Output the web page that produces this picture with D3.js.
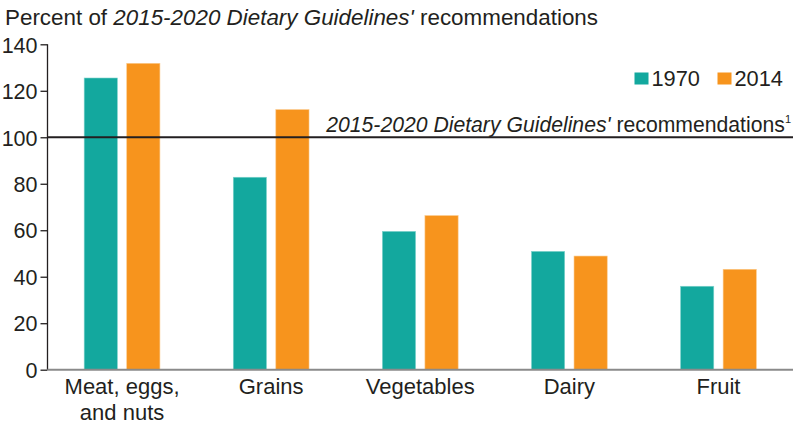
<!DOCTYPE html>
<html><head><meta charset="utf-8">
<script src="https://cdn.jsdelivr.net/npm/d3@7"></script>
<style>
body{margin:0;background:#fff;}
text{font-family:"Liberation Sans",Arial,Helvetica,sans-serif;fill:#231f20;}
</style></head>
<body><svg id="c" width="801" height="424"></svg>
<script>
const categories = [["Meat, eggs,","and nuts"],["Grains"],["Vegetables"],["Dairy"],["Fruit"]];
const seriesNames = ["1970","2014"];
const values1970 = [125.5, 82.8, 59.5, 50.9, 35.9];
const values2014 = [131.8, 111.9, 66.3, 48.9, 43.2];
const yTicks = [0,20,40,60,80,100,120,140];
const colors = ["#13a89e","#f7941d"];
const refValue = 100;

const svg = d3.select("#c");
const pLeft = 47.5, pRight = 793, pTop = 44.3, pBottom = 369.7;
const y = d3.scaleLinear().domain([0,140]).range([pBottom, pTop]);
const catIdx = categories.map((d,i)=>i);
const x0 = d3.scaleBand().domain(catIdx).range([pLeft,pRight]).paddingInner(0.492).paddingOuter(0.246);
const x1 = d3.scaleBand().domain([0,1]).range([0,x0.bandwidth()]).paddingInner(0.22);
const series = [values1970, values2014];

// bars
series.forEach((vals,s)=>{
  svg.append("g").selectAll("rect").data(vals).join("rect")
    .attr("x",(d,i)=>x0(i)+x1(s))
    .attr("y",d=>y(d))
    .attr("width",x1.bandwidth())
    .attr("height",d=>y(0)-y(d))
    .attr("fill",colors[s])
    .attr("stroke", s===0 ? "#7fd3cc" : "#fbc98a")
    .attr("stroke-width",0.6);
});

// y axis
const yAxis = d3.axisLeft(y).tickValues(yTicks).tickSize(7).tickPadding(3).tickFormat(d3.format("d"));
const ga = svg.append("g").attr("transform",`translate(${pLeft},0)`).call(yAxis);
ga.select(".domain").attr("stroke","#231f20").attr("stroke-width",1.3).attr("d",`M0,${pTop}V${pBottom}`);
ga.selectAll(".tick line").attr("stroke","#231f20").attr("stroke-width",1.3);
ga.selectAll(".tick text").attr("font-size",21.5).attr("font-family","Liberation Sans, Arial, sans-serif").attr("fill","#231f20").attr("dy","0.36em");

// baseline
svg.append("line").attr("x1",pLeft).attr("x2",pRight).attr("y1",y(0)).attr("y2",y(0))
  .attr("stroke","#8a8a8a").attr("stroke-width",2);

// reference line
svg.append("line").attr("x1",pLeft).attr("x2",pRight).attr("y1",y(refValue)).attr("y2",y(refValue))
  .attr("stroke","#231f20").attr("stroke-width",2);

// ref label
const rl = svg.append("text").attr("x",791).attr("y",y(refValue)-5.5).attr("text-anchor","end").attr("font-size",21.2);
rl.append("tspan").attr("font-style","italic").text("2015-2020 Dietary Guidelines'");
rl.append("tspan").text(" recommendations");
rl.append("tspan").attr("font-size",11).attr("dy",-9).text("1");

// category labels
catIdx.forEach(i=>{
  const t = svg.append("text").attr("x",x0(i)+x0.bandwidth()/2).attr("y",393.5).attr("text-anchor","middle").attr("font-size",22);
  categories[i].forEach((line,k)=>t.append("tspan").attr("x",x0(i)+x0.bandwidth()/2).attr("dy",k===0?0:26).text(line));
});

// title
const tt = svg.append("text").attr("x",5).attr("y",25).attr("font-size",22.4);
tt.append("tspan").text("Percent of ");
tt.append("tspan").attr("font-style","italic").text("2015-2020 Dietary Guidelines'");
tt.append("tspan").text(" recommendations");

// legend
const legX = [634.5, 717.5];
seriesNames.forEach((n,s)=>{
  svg.append("rect").attr("x",legX[s]).attr("y",72.5).attr("width",14).attr("height",12).attr("fill",colors[s]);
  svg.append("text").attr("x",legX[s]+17).attr("y",86).attr("font-size",21.8).text(n);
});
</script></body></html>
